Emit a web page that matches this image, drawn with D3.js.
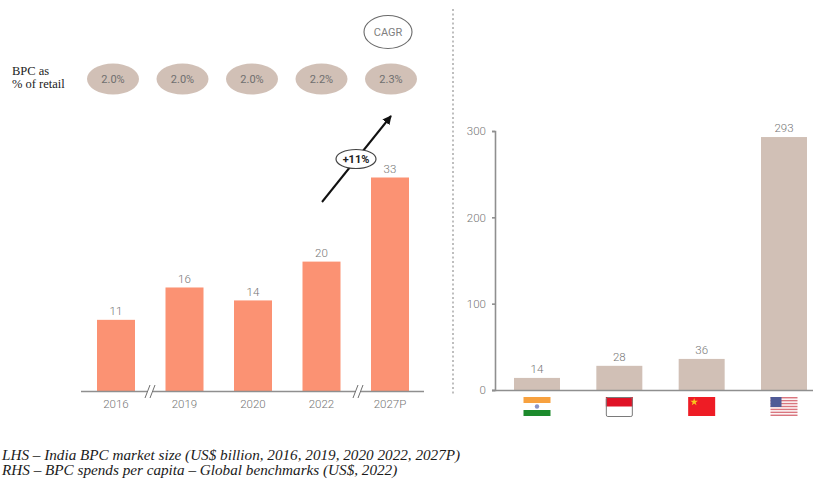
<!DOCTYPE html>
<html>
<head>
<meta charset="utf-8">
<script src="https://cdn.jsdelivr.net/npm/d3@7"></script>
<style>
  html, body { margin: 0; padding: 0; background: #fff; }
  svg { display: block; }
  text { font-family: Roboto, sans-serif; }
</style>
</head>
<body>
<svg id="chart" width="813" height="480"></svg>
<script>
// India BPC market size, US$ billion
const marketYears = ["2016", "2019", "2020", "2022", "2027P"];
const marketValues = [11, 16, 14, 20, 33];
const retailShare = ["2.0%", "2.0%", "2.0%", "2.2%", "2.3%"];

// BPC spend per capita, US$, 2022
const benchmarkCountries = ["India", "Indonesia", "China", "USA"];
const benchmarkValues = [14, 28, 36, 293];
const benchmarkTicks = [0, 100, 200, 300];

const captionLines = [
  "LHS – India BPC market size (US$ billion, 2016, 2019, 2020 2022, 2027P)",
  "RHS – BPC spends per capita – Global benchmarks (US$, 2022)"
];

const ORANGE = "#fb9273", TAUPE = "#d1c0b6", AXIS = "#8f8f8f", LABEL = "#757575";
const svg = d3.select("#chart");

// ---- left panel: market size ----
const xL = d3.scalePoint().domain(marketYears).range([116, 390]);
const yL = d3.scaleLinear().domain([0, 33]).range([391, 177.5]);
const left = svg.append("g");

left.selectAll("rect.market").data(marketValues).join("rect")
  .attr("class", "market")
  .attr("x", (d, i) => xL(marketYears[i]) - 19)
  .attr("width", 38)
  .attr("y", d => yL(d))
  .attr("height", d => yL(0) - yL(d))
  .attr("fill", ORANGE);

left.selectAll("text.value").data(marketValues).join("text")
  .attr("class", "value")
  .attr("x", (d, i) => xL(marketYears[i]))
  .attr("y", d => yL(d) - 4.5)
  .attr("text-anchor", "middle")
  .attr("font-size", 11.5)
  .attr("font-weight", 300)
  .attr("fill", LABEL)
  .text(d => d);

left.append("line")
  .attr("x1", 81).attr("x2", 424).attr("y1", 391.5).attr("y2", 391.5)
  .attr("stroke", AXIS).attr("stroke-width", 1.6);

left.selectAll("text.year").data(marketYears).join("text")
  .attr("class", "year")
  .attr("x", d => xL(d))
  .attr("y", 408)
  .attr("text-anchor", "middle")
  .attr("font-size", 11.5)
  .attr("font-weight", 300)
  .attr("fill", LABEL)
  .text(d => d);

// axis break marks between non-consecutive periods
const breakAfter = ["2016", "2022"];
breakAfter.forEach(year => {
  const cx = year === "2016" ? 150 : 358;
  left.append("rect").attr("x", cx - 3).attr("y", 389).attr("width", 6).attr("height", 5).attr("fill", "#fff");
  [-2.5, 2.5].forEach(dx => {
    left.append("line")
      .attr("x1", cx + dx - 2.5).attr("x2", cx + dx + 2.5)
      .attr("y1", 398).attr("y2", 385)
      .attr("stroke", "#6f6f6f").attr("stroke-width", 1);
  });
});

// retail share row
svg.append("text").attr("x", 12).attr("y", 74.5)
  .style("font-family", "'Liberation Serif', serif").attr("font-size", 12.5).attr("fill", "#222").text("BPC as");
svg.append("text").attr("x", 12).attr("y", 88)
  .style("font-family", "'Liberation Serif', serif").attr("font-size", 12.5).attr("fill", "#222").text("% of retail");

const shareX = d3.scalePoint().domain(d3.range(5)).range([113, 391]);
const pills = svg.append("g").selectAll("g").data(retailShare).join("g")
  .attr("transform", (d, i) => `translate(${shareX(i)},79)`);
pills.append("ellipse").attr("rx", 26).attr("ry", 15.5).attr("fill", TAUPE);
pills.append("text").attr("y", 4).attr("text-anchor", "middle")
  .attr("font-size", 11).attr("fill", "#6f6f6f").text(d => d);

// CAGR callout and growth arrow
svg.append("ellipse").attr("cx", 388).attr("cy", 32).attr("rx", 24).attr("ry", 16.5)
  .attr("fill", "#fff").attr("stroke", "#6a6a6a").attr("stroke-width", 1.1);
svg.append("text").attr("x", 388).attr("y", 36).attr("text-anchor", "middle")
  .attr("font-size", 11).attr("fill", "#808080").text("CAGR");

svg.append("defs").append("marker")
  .attr("id", "arrowHead").attr("viewBox", "0 0 10 10")
  .attr("refX", 9).attr("refY", 5)
  .attr("markerUnits", "userSpaceOnUse")
  .attr("markerWidth", 9).attr("markerHeight", 9).attr("orient", "auto")
  .append("path").attr("d", "M0,0 L10,5 L0,10 Z").attr("fill", "#111");

svg.append("line")
  .attr("x1", 322).attr("y1", 202).attr("x2", 391).attr("y2", 116)
  .attr("stroke", "#111").attr("stroke-width", 2)
  .attr("marker-end", "url(#arrowHead)");
svg.append("ellipse").attr("cx", 356).attr("cy", 159).attr("rx", 20).attr("ry", 9.5)
  .attr("fill", "#fff").attr("stroke", "#444").attr("stroke-width", 1.2);
svg.append("text").attr("x", 356).attr("y", 163).attr("text-anchor", "middle")
  .attr("font-size", 11).attr("font-weight", 700).attr("fill", "#222").text("+11%");

// panel divider
svg.append("line")
  .attr("x1", 453).attr("x2", 453).attr("y1", 9).attr("y2", 396)
  .attr("stroke", "#a9a9a9").attr("stroke-width", 1.5).attr("stroke-dasharray", "2 2.5");

// ---- right panel: global benchmarks ----
const xR = d3.scalePoint().domain(benchmarkCountries).range([537, 784]);
const yR = d3.scaleLinear().domain([0, 300]).range([390, 131]);
const right = svg.append("g");

right.selectAll("rect.bench").data(benchmarkValues).join("rect")
  .attr("class", "bench")
  .attr("x", (d, i) => xR(benchmarkCountries[i]) - 23)
  .attr("width", 46)
  .attr("y", d => yR(d))
  .attr("height", d => yR(0) - yR(d))
  .attr("fill", TAUPE);

right.selectAll("text.value").data(benchmarkValues).join("text")
  .attr("class", "value")
  .attr("x", (d, i) => xR(benchmarkCountries[i]))
  .attr("y", d => yR(d) - 5)
  .attr("text-anchor", "middle")
  .attr("font-size", 11.5)
  .attr("font-weight", 300)
  .attr("fill", LABEL)
  .text(d => d);

const yAxis = d3.axisLeft(yR).tickValues(benchmarkTicks).tickSize(3).tickPadding(6);
const yAxisG = right.append("g").attr("transform", "translate(495,0)").call(yAxis);
yAxisG.selectAll("path, line").attr("stroke", AXIS).attr("stroke-width", 1.6);
yAxisG.selectAll("text").attr("font-size", 11.5).attr("font-weight", 300).attr("fill", LABEL).style("font-family", "Roboto, sans-serif");

right.append("line").attr("x1", 492).attr("x2", 813).attr("y1", 390.5).attr("y2", 390.5)
  .attr("stroke", AXIS).attr("stroke-width", 1.6);

// country flags under the bars
const flagW = 27, flagH = 19, flagTop = 397;
const flagPainters = {
  India(g) {
    g.append("rect").attr("width", flagW).attr("height", 6).attr("fill", "#f7a13f");
    g.append("rect").attr("y", 13).attr("width", flagW).attr("height", 6).attr("fill", "#1c8a2c");
    g.append("circle").attr("cx", flagW / 2).attr("cy", 9.5).attr("r", 2.2).attr("fill", "#8c93c4");
  },
  Indonesia(g) {
    g.append("rect").attr("width", flagW).attr("height", 9.5).attr("fill", "#e01226");
    g.append("rect").attr("x", 0.5).attr("y", 0.5).attr("width", flagW - 1).attr("height", flagH).attr("rx", 1.5)
      .attr("fill", "none").attr("stroke", "#7a7a7a").attr("stroke-width", 1);
  },
  China(g) {
    g.append("rect").attr("width", flagW).attr("height", flagH).attr("fill", "#ee1c25");
    g.append("path").attr("transform", "translate(6,5)")
      .attr("d", d3.symbol(d3.symbolStar, 18)()).attr("fill", "#f8c81c");
  },
  USA(g) {
    d3.range(7).forEach(i => {
      g.append("rect").attr("y", i * flagH / 6.5).attr("width", flagW).attr("height", flagH / 13)
        .attr("fill", "#d9767f");
    });
    g.append("rect").attr("width", 11).attr("height", 10).attr("fill", "#4f5a96");
  }
};
const flags = right.selectAll("g.flag").data(benchmarkCountries).join("g")
  .attr("class", "flag")
  .attr("transform", d => `translate(${xR(d) - flagW / 2},${flagTop})`);
flags.each(function(d) { flagPainters[d](d3.select(this)); });

// source notes
svg.selectAll("text.caption").data(captionLines).join("text")
  .attr("class", "caption")
  .attr("x", 2)
  .attr("y", (d, i) => 459.5 + i * 15.5)
  .style("font-family", "'Liberation Serif', serif")
  .attr("font-style", "italic")
  .attr("font-size", 15.2)
  .attr("fill", "#1a1a1a")
  .text(d => d);
</script>
</body>
</html>
